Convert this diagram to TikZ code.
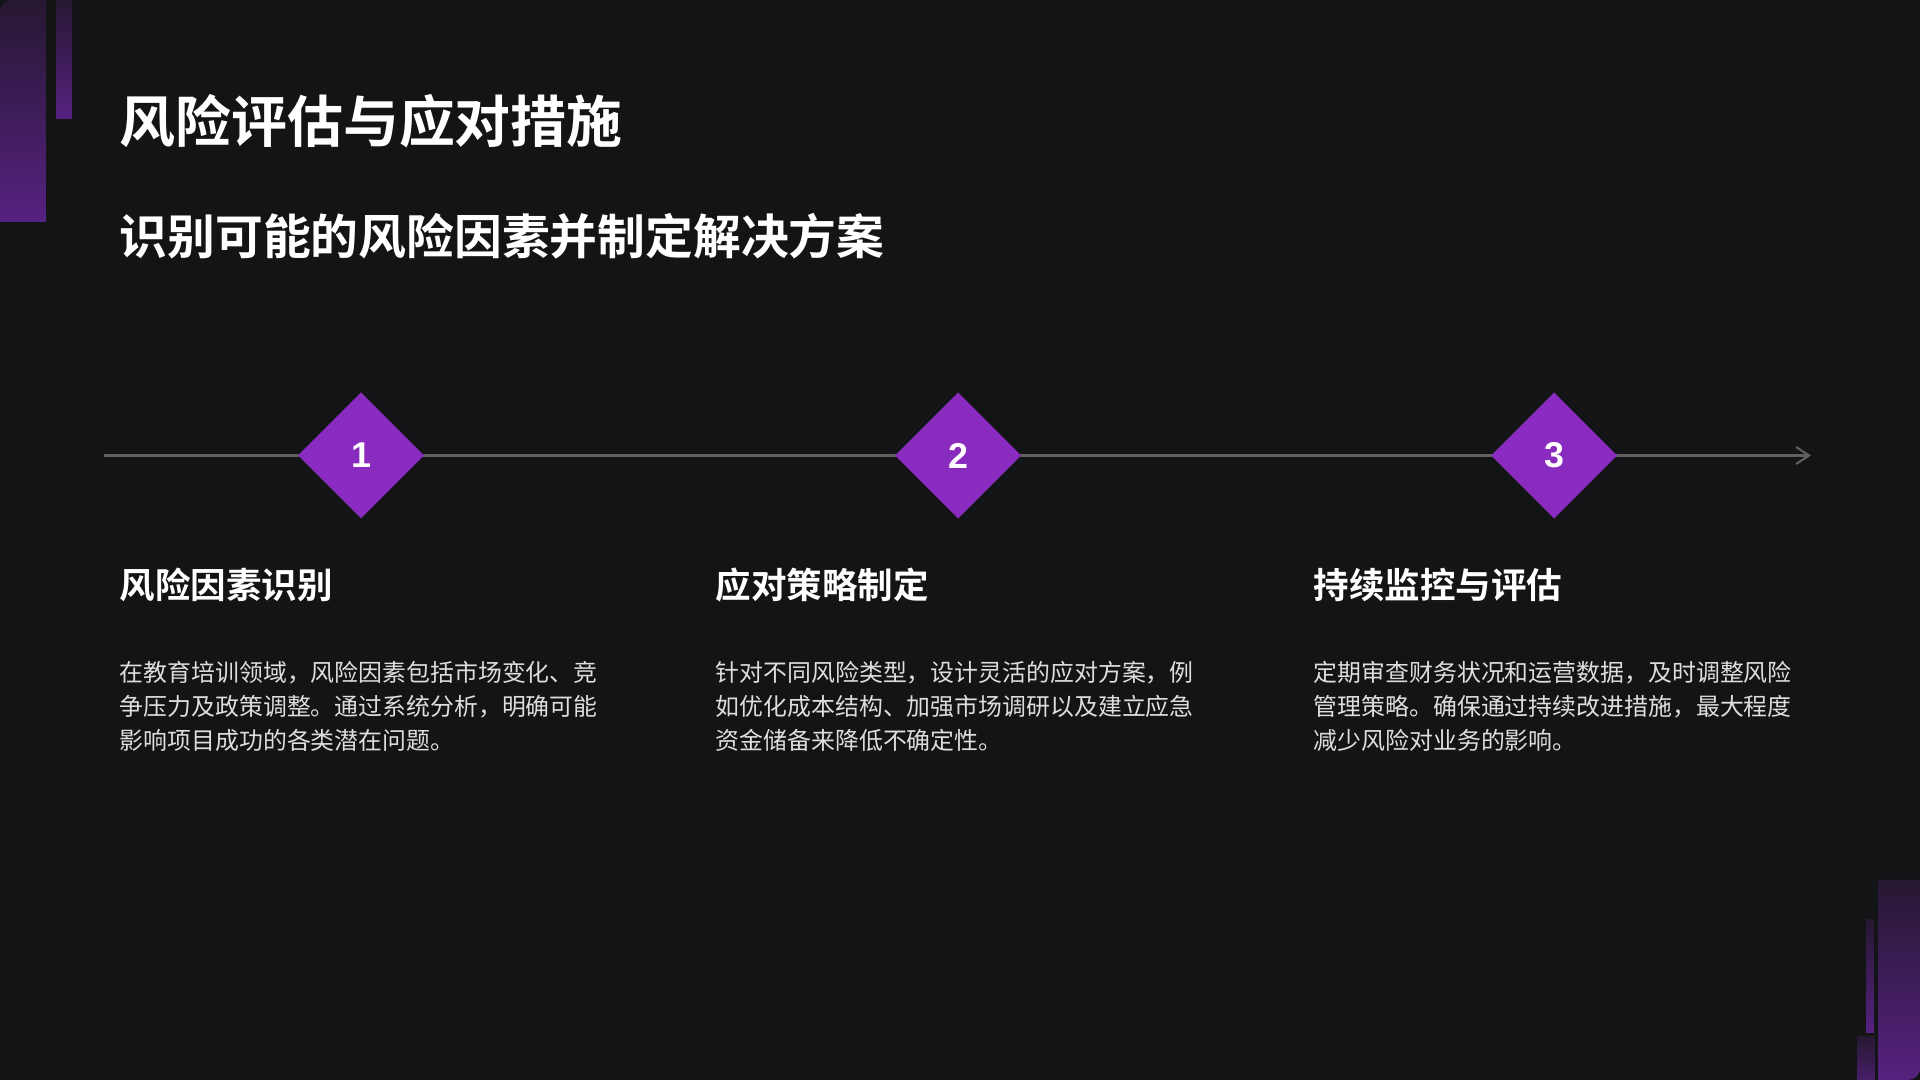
\documentclass[tikz,border=0pt]{standalone}
\usepackage{fontspec}
\setmainfont{Noto Sans CJK SC}[BoldFont={Noto Sans CJK SC Bold}]
\newfontfamily\numfont{Liberation Sans}
\usepackage{tkz-graph}
\usetikzlibrary{arrows.meta,shapes.geometric}
\definecolor{bgdark}{RGB}{19,20,22}
\definecolor{mypurple}{RGB}{137,43,190}
\definecolor{bartop}{RGB}{38,24,50}
\definecolor{barbottom}{RGB}{86,33,128}
\definecolor{linegray}{RGB}{96,96,98}
\definecolor{bodygray}{RGB}{222,222,222}

\begin{document}
\begin{tikzpicture}
\GraphInit[vstyle=Normal]
\tikzset{VertexStyle/.style ={shape=diamond, fill=mypurple, draw=none, inner sep=0pt,
  minimum size=1.26cm, text=white, font=\numfont\bfseries\fontsize{10.2pt}{12pt}\selectfont}}
\tikzset{bigtitle/.style ={anchor=base west, inner sep=0pt, text=white,
  font=\bfseries\fontsize{15.9pt}{19pt}\selectfont}}
\tikzset{subtitle/.style ={bigtitle, font=\bfseries\fontsize{13.6pt}{16pt}\selectfont}}
\tikzset{heading/.style ={bigtitle, font=\bfseries\fontsize{10.1pt}{12pt}\selectfont}}
\tikzset{body/.style ={anchor=base west, inner sep=0pt, align=left, text=bodygray,
  font=\fontsize{6.8pt}{9.8pt}\selectfont}}
\tikzset{bar/.style ={top color=bartop, bottom color=barbottom}}
\useasboundingbox (0,0) rectangle (19.2,10.8);
\fill[bgdark] (0,0) rectangle (19.2,10.8);
% corner bars
\shade[bar] (0,8.58) [rounded corners=1.2mm] -- (0,10.8) [sharp corners] -- (0.46,10.8) -- (0.46,8.58) -- cycle;
\shade[bar] (0.56,9.61) rectangle (0.72,10.8);
\shade[bar] (18.78,2.0) -- (19.2,2.0) [rounded corners=1.2mm] -- (19.2,0) [sharp corners] -- (18.78,0) -- cycle;
\shade[bar] (18.66,0.47) rectangle (18.74,1.6);
\shade[top color=bartop, bottom color=barbottom!70!bartop] (18.57,0) rectangle (18.75,0.43);
% timeline
\coordinate (start) at (1.04,6.245);
\coordinate (end) at (18.11,6.245);
\draw[linegray, line width=0.6pt, -{Straight Barb[length=1.3mm,width=1.7mm]}] (start) -- (end);
\Vertex[x=3.61,y=6.245,L=1]{R1}
\EA[unit=5.97,L=2](R1){R2}
\EA[unit=5.96,L=3](R2){R3}
% titles
\node[bigtitle] (title) at (1.19,9.37) {风险评估与应对措施};
\node[subtitle] (sub) at (1.19,8.255) {识别可能的风险因素并制定解决方案};
% columns (body nodes sit on their last line)
\node[heading] (h1) at (1.19,4.814) {风险因素识别};
\node[heading] (h2) at (7.15,4.814) {应对策略制定};
\node[heading] (h3) at (13.13,4.814) {持续监控与评估};
\node[body] (b1) at (1.19,3.30) {在教育培训领域，风险因素包括市场变化、竞\\争压力及政策调整。通过系统分析，明确可能\\影响项目成功的各类潜在问题。};
\node[body] (b2) at (7.15,3.30) {针对不同风险类型，设计灵活的应对方案，例\\如优化成本结构、加强市场调研以及建立应急\\资金储备来降低不确定性。};
\node[body] (b3) at (13.13,3.30) {定期审查财务状况和运营数据，及时调整风险\\管理策略。确保通过持续改进措施，最大程度\\减少风险对业务的影响。};
\end{tikzpicture}
\end{document}
